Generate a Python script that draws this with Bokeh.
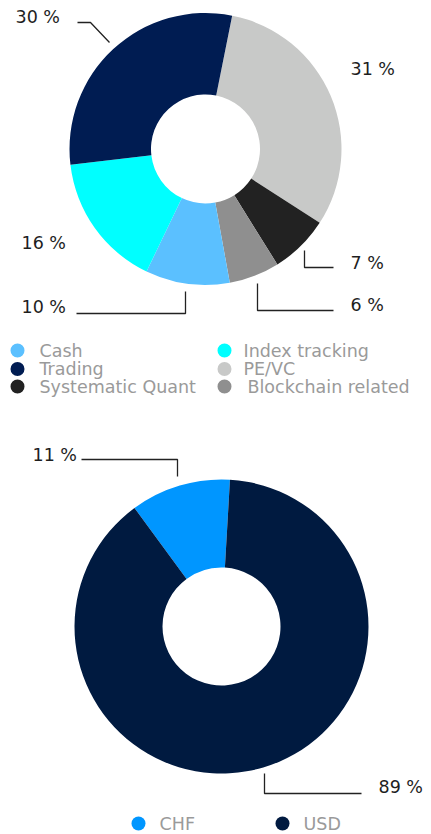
import math
from bokeh.plotting import figure
from bokeh.models import Range1d
from bokeh.core.properties import value
from bokeh.embed import file_html
from bokeh.resources import INLINE

# ---------------- data ----------------
strategy_names = ["PE/VC", "Systematic Quant", "Blockchain related", "Cash", "Index tracking", "Trading"]
strategy_values = [31, 7, 6, 10, 16, 30]
strategy_colors = ["#C8C9C8", "#222222", "#8F8F8F", "#5BC0FF", "#00FFFF", "#001C52"]

legend_top_names = ["Cash", "Trading", "Systematic Quant", "Index tracking", "PE/VC", "Blockchain related"]

currency_names = ["CHF", "USD"]
currency_values = [11, 89]
currency_colors = ["#0096FF", "#001A40"]

# ---------------- layout ----------------
W, H = 431, 834
FONT = "DejaVu Sans"


def Y(y):  # pixel-from-top to data y
    return H - y


p = figure(width=W, height=H, output_backend="svg", toolbar_location=None,
           x_range=Range1d(0, W), y_range=Range1d(0, H), min_border=0)
p.axis.visible = False
p.grid.visible = False
p.outline_line_color = None
p.background_fill_color = "white"
p.border_fill_color = "white"


def donut(cx, cy, r_in, r_out, vals, colors, start_deg, clockwise):
    total = float(sum(vals))
    starts, ends = [], []
    cum = 0.0
    for v in vals:
        a0 = cum / total * 360.0
        cum += v
        a1 = cum / total * 360.0
        if clockwise:
            s, e = start_deg - a1, start_deg - a0
        else:
            s, e = start_deg + a0, start_deg + a1
        starts.append(math.radians(s))
        ends.append(math.radians(e))
    p.annular_wedge(x=[cx] * len(vals), y=[Y(cy)] * len(vals),
                    inner_radius=r_in, outer_radius=r_out,
                    inner_radius_units="screen", outer_radius_units="screen",
                    start_angle=starts, end_angle=ends,
                    fill_color=colors, line_color=None, direction="anticlock")


# top donut
donut(205, 148.5, 54.5, 136, strategy_values, strategy_colors, 78.7, True)
# bottom donut
donut(221, 626, 59, 147, currency_values, currency_colors, 86.7, False)

LABEL_COLOR = "#1E1E1E"
LEG_COLOR = "#9A9A9A"
SIZE = "17.5px"


def label(x, y, txt):
    p.text(x=[x], y=[Y(y)], text=[txt], text_font=value(FONT), text_font_size=SIZE,
           text_color=LABEL_COLOR, text_align="left", text_baseline="middle")


def leader(xs, ys):
    p.line(x=xs, y=[Y(v) for v in ys], line_color="#222222", line_width=1.3)


vals = dict(zip(strategy_names, strategy_values))
# top labels
label(15, 16.5, f"{vals['Trading']} %")
leader([77, 90, 109], [22, 22, 42])
label(350, 68, f"{vals['PE/VC']} %")
label(350, 262.5, f"{vals['Systematic Quant']} %")
leader([304, 304, 333], [250, 267, 267])
label(350, 304.5, f"{vals['Blockchain related']} %")
leader([257, 257, 333], [283, 310, 310])
label(21, 306, f"{vals['Cash']} %")
leader([185, 185, 76], [291, 313, 313])
label(21, 242, f"{vals['Index tracking']} %")

cvals = dict(zip(currency_names, currency_values))
label(32, 454, f"{cvals['CHF']} %")
leader([81, 177, 177], [459, 459, 476])
label(378, 786, f"{cvals['USD']} %")
leader([264, 264, 361], [773, 793, 793])

# top legend
color_of = dict(zip(strategy_names, strategy_colors))
leg_pos = [(17, 39, 350), (17, 39, 368.5), (17, 39, 386),
           (224, 243, 350), (224, 243, 368.5), (224, 247, 386)]
for name, (cx, tx, y) in zip(legend_top_names, leg_pos):
    p.scatter(x=[cx], y=[Y(y)], size=14, marker="circle", fill_color=color_of[name], line_color=None)
    p.text(x=[tx], y=[Y(y)], text=[name], text_font=value(FONT), text_font_size=SIZE,
           text_color=LEG_COLOR, text_align="left", text_baseline="middle")

# bottom legend
cleg_pos = [(138, 159, 823), (282, 303, 823)]
for name, col, (cx, tx, y) in zip(currency_names, currency_colors, cleg_pos):
    p.scatter(x=[cx], y=[Y(y)], size=14, marker="circle", fill_color=col, line_color=None)
    p.text(x=[tx], y=[Y(y)], text=[name], text_font=value(FONT), text_font_size=SIZE,
           text_color=LEG_COLOR, text_align="left", text_baseline="middle")

open("out.html", "w").write(file_html(p, INLINE))
